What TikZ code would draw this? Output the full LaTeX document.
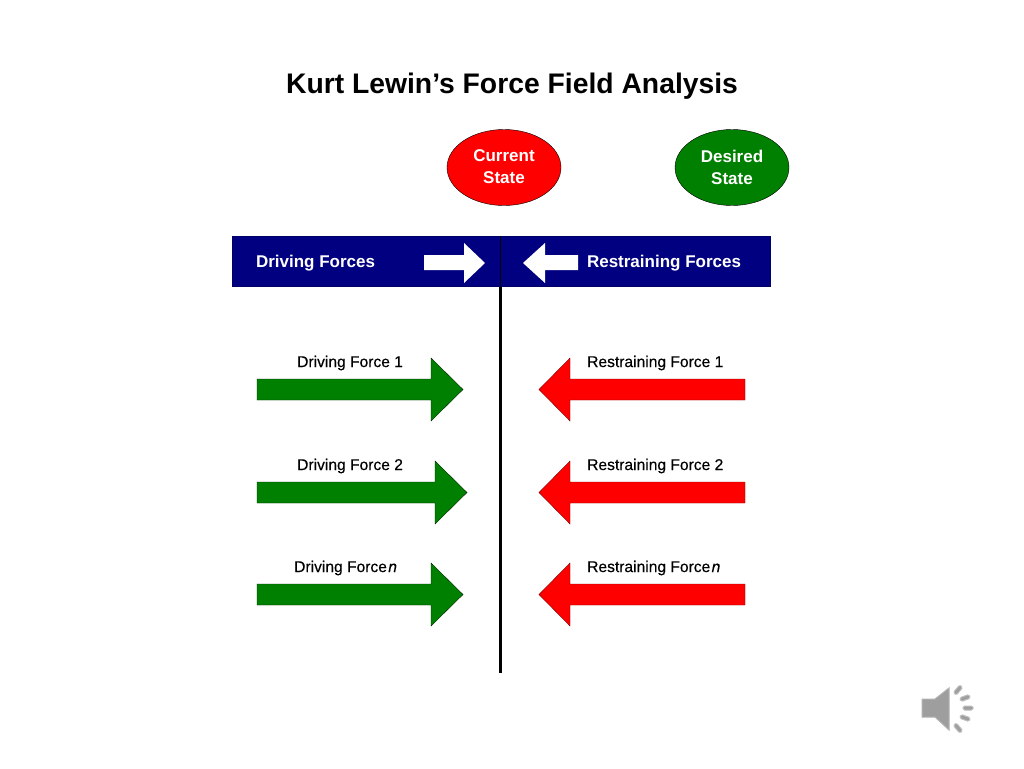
\documentclass[tikz,border=0pt]{standalone}
\usepackage{fontspec}
\setmainfont{Liberation Sans}
\newfontfamily\forcefont[FakeBold=0.35]{Liberation Sans}
\usetikzlibrary{calc,shapes.geometric}
\definecolor{navybar}{rgb}{0.0, 0.0, 0.5}
\definecolor{forcegreen}{rgb}{0.0, 0.5, 0.0}
\definecolor{forcered}{rgb}{1.0, 0.0, 0.0}
\definecolor{speakergray}{rgb}{0.62, 0.62, 0.62}
\tikzset{
    state/.style={
        draw=black,
        ellipse,
        minimum width=114,
        minimum height=76,
        inner sep=0pt,
        align=center,
        text=white,
        font=\fontsize{17}{21}\selectfont\bfseries,
    },
    bartext/.style={
        text=white,
        font=\fontsize{17}{20}\selectfont\bfseries,
    },
    forcetext/.style={
        text=black,
        anchor=west,
        inner sep=0pt,
        font=\fontsize{15.6}{18}\forcefont,
    },
    whitearrow/.style={draw=none, fill=white},
    drivearrow/.style={draw=black!70!forcegreen, fill=forcegreen},
    restrainarrow/.style={draw=black!50!forcered, fill=forcered},
    wave/.style={draw=black!25, fill=speakergray, line width=1pt, rounded corners=1.5pt},
}
\begin{document}
\begin{tikzpicture}[x=1pt, y=-1pt]
    \useasboundingbox (0, 0) rectangle (1024, 768);
    \fill[white] (0, 0) rectangle (1024, 768);

    % Title
    \node[font=\fontsize{28.3}{34}\selectfont\bfseries] (title) at (512, 86)
      {Kurt Lewin’s Force Field Analysis};

    % Current and desired state
    \node[state, fill=forcered] (current) at (504, 167.5)
      {\raisebox{2pt}{Current}\\\raisebox{1pt}{State}};
    \node[state, fill=forcegreen] (desired) at (732, 167.5)
      {\raisebox{2pt}{Desired}\\\raisebox{1pt}{State}};

    % Header bar
    \draw[navybar!80!black, fill=navybar] (232.5, 236) rectangle (770.5, 286.5);
    \node[bartext, anchor=west] (drivingforces) at (252.5, 263) {Driving Forces};
    \node[bartext, anchor=west] (restrainingforces) at (583.5, 263) {Restraining Forces};
    \draw[whitearrow] (424, 255) -- ++(40, 0) -- ++(0, -12) -- (485, 263)
      -- (464, 283) -- ++(0, -13) -- ++(-40, 0) -- cycle;
    \draw[whitearrow] (578, 255) -- ++(-33, 0) -- ++(0, -12) -- (523, 263)
      -- (545, 283) -- ++(0, -13) -- ++(33, 0) -- cycle;

    % Divider, thin inside the bar
    \coordinate (divtop) at (500.5, 236);
    \coordinate (divmid) at (500.5, 287);
    \coordinate (divbot) at (500.5, 673);
    \draw[black, line width=1pt] (divtop) -- (divmid);
    \draw[black, line width=3pt] (divmid) -- (divbot);

    % Driving forces
    \foreach \i/\ytop/\tipx/\labx/\lab in {1/379/463/297/Driving Force 1,
        2/482/467/297/Driving Force 2, 3/584/463/294/Driving Force\hspace{-3pt} \textit{n}} {
      \draw[drivearrow] (257, \ytop) -- (\tipx-32, \ytop) -- ++(0, -21)
        -- (\tipx, \ytop+10.5) -- (\tipx-32, \ytop+42) -- ++(0, -21)
        -- (257, \ytop+21) -- cycle;
      \node[forcetext] (driving\i) at (\labx, \ytop-16) {\lab};
    }

    % Restraining forces
    \foreach \i/\ytop/\lab in {1/379/Restraining Force 1,
        2/482/Restraining Force 2, 3/584/Restraining Force\hspace{-3pt} \textit{n}} {
      \draw[restrainarrow] (745, \ytop) -- (570, \ytop) -- ++(0, -21)
        -- (539, \ytop+10.5) -- (570, \ytop+42) -- ++(0, -21)
        -- (745, \ytop+21) -- cycle;
      \node[forcetext] (restraining\i) at (587, \ytop-16) {\lab};
    }

    % Speaker icon
    \draw[black!30, fill=speakergray, line width=1pt]
      (922, 699) -- (935, 699) -- (949, 688) -- (949, 730) -- (935, 717)
      -- (922, 717) -- cycle;
    \foreach \wx/\wy/\wr in {958/690/50, 965/698/20, 968/708/0, 965/718/-20, 958/728/-50} {
      \draw[wave, rotate around={\wr:(\wx, \wy)}] (\wx-5, \wy-2) rectangle (\wx+5, \wy+2);
    }
\end{tikzpicture}
\end{document}
